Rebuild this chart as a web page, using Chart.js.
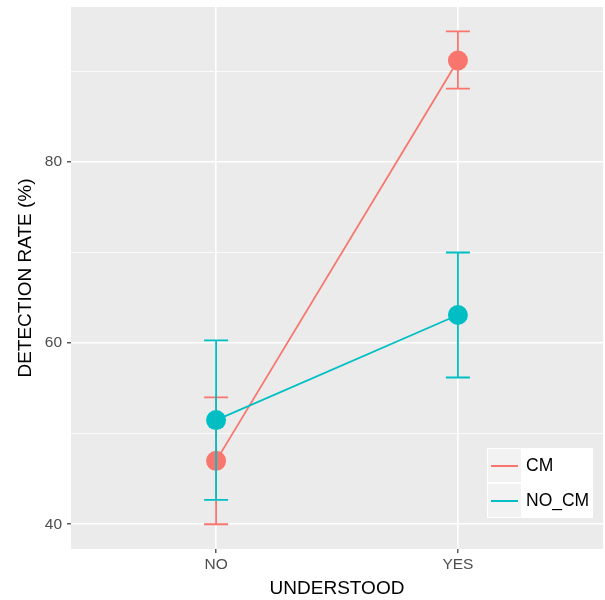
<!DOCTYPE html>
<html>
<head>
<meta charset="utf-8">
<script src="https://cdn.jsdelivr.net/npm/chart.js@4.4.1/dist/chart.umd.min.js"></script>
<style>
  html, body { margin: 0; padding: 0; background: #fff; overflow: hidden; }
  canvas { display: block; }
</style>
</head>
<body>
<canvas id="chart" width="605" height="600"></canvas>
<script>
const categories = ['NO', 'YES'];
const groups = ['CM', 'NO_CM'];
const colors = ['#F8766D', '#00BFC4'];

const cmMean = [47.0, 91.2];
const cmLow = [40.0, 88.1];
const cmHigh = [54.0, 94.4];

const nocmMean = [51.5, 63.1];
const nocmLow = [42.7, 56.2];
const nocmHigh = [60.3, 70.0];

const yTicks = [40, 50, 60, 70, 80, 90];

const FONT = 'Helvetica, "Liberation Sans", Arial, sans-serif';

function points(vals) {
  return vals.map((v, i) => ({ x: i + 1, y: v }));
}

const bars = [
  { low: cmLow, high: cmHigh },
  { low: nocmLow, high: nocmHigh }
];

// grey ggplot panel
const panelBg = {
  id: 'panelBg',
  beforeDraw(chart) {
    const { ctx, chartArea: a } = chart;
    ctx.save();
    ctx.fillStyle = '#EBEBEB';
    ctx.fillRect(a.left, a.top, a.right - a.left, a.bottom - a.top);
    ctx.restore();
  }
};

// error bars on top of points
const errorBars = {
  id: 'errorBars',
  afterDatasetsDraw(chart) {
    const { ctx, scales } = chart;
    ctx.save();
    ctx.lineWidth = 1.8;
    bars.forEach((b, di) => {
      ctx.strokeStyle = colors[di];
      b.low.forEach((lo, i) => {
        const x = scales.x.getPixelForValue(i + 1);
        const y1 = scales.y.getPixelForValue(lo);
        const y2 = scales.y.getPixelForValue(b.high[i]);
        ctx.beginPath();
        ctx.moveTo(x, y1); ctx.lineTo(x, y2);
        ctx.moveTo(x - 12, y1); ctx.lineTo(x + 12, y1);
        ctx.moveTo(x - 12, y2); ctx.lineTo(x + 12, y2);
        ctx.stroke();
      });
    });
    ctx.restore();
  }
};

// legend inside the panel, bottom right
const insideLegend = {
  id: 'insideLegend',
  afterDraw(chart) {
    const { ctx, chartArea: a } = chart;
    const w = 106, h = 70;
    const x0 = a.right - 10 - w;
    const y0 = a.bottom - 31 - h;
    ctx.save();
    ctx.fillStyle = '#FFFFFF';
    ctx.fillRect(x0, y0, w, h);
    chart.data.datasets.forEach((ds, i) => {
      const ky = y0 + 1 + i * 35;
      ctx.fillStyle = '#F2F2F2';
      ctx.fillRect(x0 + 1, ky, 33, 33);
      ctx.strokeStyle = ds.borderColor;
      ctx.lineWidth = 2;
      ctx.beginPath();
      ctx.moveTo(x0 + 4, ky + 17);
      ctx.lineTo(x0 + 31, ky + 17);
      ctx.stroke();
      ctx.fillStyle = '#000000';
      ctx.font = '17.5px ' + FONT;
      ctx.textBaseline = 'middle';
      ctx.textAlign = 'left';
      ctx.fillText(ds.label, x0 + 39, ky + 17);
    });
    ctx.restore();
  }
};

new Chart(document.getElementById('chart'), {
  type: 'line',
  data: {
    datasets: [
      {
        label: groups[0],
        data: points(cmMean),
        borderColor: colors[0],
        backgroundColor: colors[0],
        borderWidth: 1.8,
        pointRadius: 10,
        pointBorderWidth: 0,
        pointHoverRadius: 10,
        order: 2
      },
      {
        label: groups[1],
        data: points(nocmMean),
        borderColor: colors[1],
        backgroundColor: colors[1],
        borderWidth: 1.8,
        pointRadius: 10,
        pointBorderWidth: 0,
        pointHoverRadius: 10,
        order: 1
      }
    ]
  },
  options: {
    responsive: false,
    animation: false,
    events: [],
    layout: { autoPadding: false, padding: { top: 7, right: 2, left: 0, bottom: 0 } },
    plugins: {
      legend: { display: false },
      tooltip: { enabled: false }
    },
    scales: {
      x: {
        type: 'linear',
        min: 0.4,
        max: 2.6,
        afterBuildTicks: (s) => { s.ticks = categories.map((c, i) => ({ value: i + 1 })); },
        afterFit: (s) => { s.height = 51; s.paddingLeft = 0; s.paddingRight = 0; },
        border: { display: false },
        grid: {
          color: '#FFFFFF',
          lineWidth: 1.6,
          tickColor: '#333333',
          tickLength: 4,
          tickWidth: 1.2
        },
        ticks: {
          color: '#4D4D4D',
          font: { family: FONT, size: 15.5 },
          padding: 2,
          maxRotation: 0,
          callback: (v) => categories[v - 1]
        },
        title: {
          display: true,
          text: 'UNDERSTOOD',
          color: '#000000',
          font: { family: FONT, size: 19, lineHeight: 1.2 },
          padding: { top: 0, bottom: 0 }
        }
      },
      y: {
        min: 37.27,
        max: 97.1,
        afterBuildTicks: (s) => { s.ticks = yTicks.map(v => ({ value: v })); },
        afterFit: (s) => { s.width = 71; s.paddingTop = 0; s.paddingBottom = 0; },
        border: { display: false },
        grid: {
          color: '#FFFFFF',
          lineWidth: (c) => (c.tick && c.tick.value % 20 === 0 ? 1.6 : 0.8),
          tickColor: (c) => (c.tick && c.tick.value % 20 === 0 ? '#333333' : 'rgba(0,0,0,0)'),
          tickLength: 4,
          tickWidth: 1.2
        },
        ticks: {
          color: '#4D4D4D',
          font: { family: FONT, size: 15.5 },
          padding: 5,
          callback: (v) => (v % 20 === 0 ? String(v) : '')
        },
        title: {
          display: true,
          text: 'DETECTION RATE (%)',
          color: '#000000',
          font: { family: FONT, size: 19, lineHeight: 1.2 },
          padding: { top: 14, bottom: 0 }
        }
      }
    }
  },
  plugins: [panelBg, errorBars, insideLegend]
});
</script>
</body>
</html>
